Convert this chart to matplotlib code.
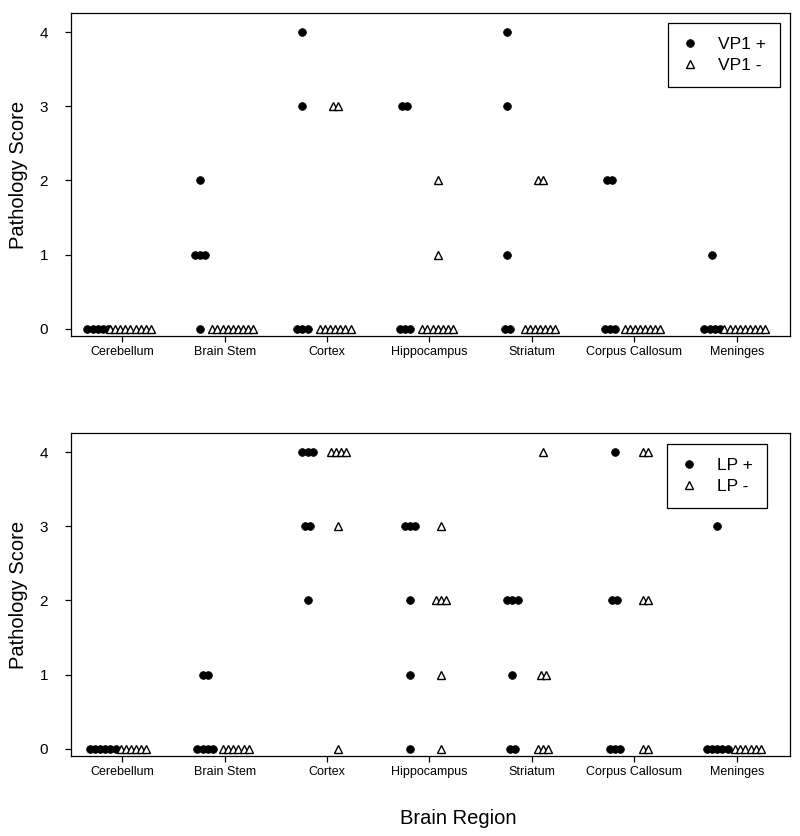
import matplotlib
matplotlib.use("Agg")
import matplotlib.pyplot as plt
from collections import Counter

plt.rcParams['font.family'] = ['Liberation Sans', 'DejaVu Sans']

regions = ["Cerebellum", "Brain Stem", "Cortex", "Hippocampus", "Striatum",
           "Corpus Callosum", "Meninges"]

# Pathology scores per animal, one list per region
vp1_pos = [[0, 0, 0, 0, 0],
           [2, 1, 1, 1, 0],
           [4, 3, 0, 0, 0],
           [3, 3, 0, 0, 0],
           [4, 3, 1, 0, 0],
           [2, 2, 0, 0, 0],
           [1, 0, 0, 0, 0]]
vp1_neg = [[0, 0, 0, 0, 0, 0, 0, 0, 0],
           [0, 0, 0, 0, 0, 0, 0, 0, 0],
           [3, 3, 0, 0, 0, 0, 0, 0, 0],
           [2, 1, 0, 0, 0, 0, 0, 0, 0],
           [2, 2, 0, 0, 0, 0, 0, 0, 0],
           [0, 0, 0, 0, 0, 0, 0, 0],
           [0, 0, 0, 0, 0, 0, 0, 0, 0]]
lp_pos = [[0, 0, 0, 0, 0, 0],
          [1, 1, 0, 0, 0, 0],
          [4, 4, 4, 3, 3, 2],
          [3, 3, 3, 2, 1, 0],
          [2, 2, 2, 1, 0, 0],
          [4, 2, 2, 0, 0, 0],
          [3, 0, 0, 0, 0, 0]]
lp_neg = [[0, 0, 0, 0, 0, 0],
          [0, 0, 0, 0, 0, 0],
          [4, 4, 4, 4, 3, 0],
          [3, 2, 2, 2, 1, 0],
          [4, 1, 1, 0, 0, 0],
          [4, 4, 2, 2, 0, 0],
          [0, 0, 0, 0, 0, 0]]

yticks = [0, 1, 2, 3, 4]
SPACING = 0.05


def dot_positions(groups, offset):
    xs, ys = [], []
    for i, scores in enumerate(groups):
        tick = i + 1
        for val, n in sorted(Counter(scores).items()):
            for k in range(n):
                xs.append(tick + offset + (k - (n - 1) / 2) * SPACING)
                ys.append(val)
    return xs, ys


fig = plt.figure(figsize=(8, 8.36), dpi=100)
W, H = 800, 836
ax1 = fig.add_axes([71 / W, 1 - 336 / H, 719 / W, 323 / H])
ax2 = fig.add_axes([71 / W, 1 - 756 / H, 719 / W, 323 / H])

panels = [
    (ax1, vp1_pos, vp1_neg, "VP1 +", "VP1 -", -0.24, 0.08, (0.986, 0.969)),
    (ax2, lp_pos, lp_neg, "LP +", "LP -", -0.19, 0.11, (0.968, 0.966)),
]

for ax, pos, neg, lab_p, lab_n, off_p, off_n, anchor in panels:
    xp, yp = dot_positions(pos, off_p)
    xn, yn = dot_positions(neg, off_n)
    ax.plot(xp, yp, 'o', ms=5.6, mfc='black', mec='black', mew=0.5,
            ls='none', label=lab_p)
    ax.plot(xn, yn, '^', ms=5.2, mfc='white', mec='black', mew=1.0,
            ls='none', label=lab_n)
    ax.set_xlim(0.5, 7.52)
    ax.set_ylim(-0.1, 4.26)
    ax.set_xticks(range(1, len(regions) + 1))
    ax.set_xticklabels(regions, fontsize=9)
    ax.set_yticks(yticks)
    ax.set_yticklabels([str(t) for t in yticks], fontsize=11)
    ax.tick_params(axis='both', direction='out', length=4.5, width=0.9,
                   color='black')
    ax.tick_params(axis='x', pad=3)
    ax.tick_params(axis='y', pad=12)
    for sp in ax.spines.values():
        sp.set_linewidth(0.9)
        sp.set_color('black')
    ax.set_ylabel("Pathology Score", fontsize=14.5)
    ax.yaxis.set_label_coords(-0.06, 0.5)
    leg = ax.legend(loc='upper right', bbox_to_anchor=anchor, fontsize=12.5,
                    frameon=True, fancybox=False, edgecolor='black',
                    framealpha=1, handlelength=1.0, handletextpad=1.1,
                    borderpad=0.8, labelspacing=0.35, borderaxespad=0,
                    markerscale=1.0)
    leg.get_frame().set_linewidth(0.9)

fig.text(458 / W, 1 - 818 / H, "Brain Region", fontsize=14.5,
         ha='center', va='center')

fig.savefig("out.png", dpi=100)
